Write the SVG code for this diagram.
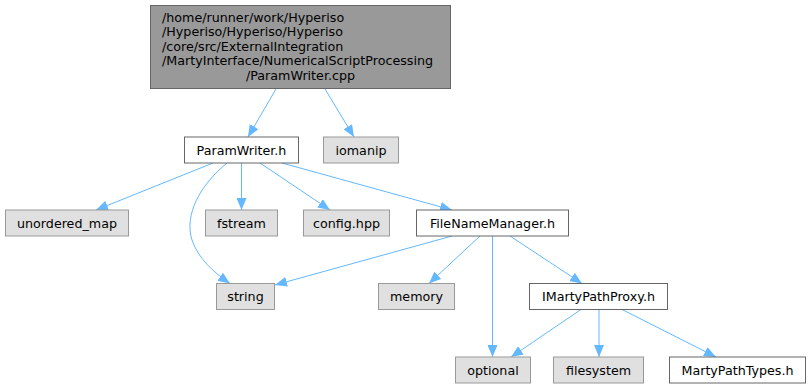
<svg xmlns="http://www.w3.org/2000/svg" width="812" height="388" viewBox="0 0 812 388">
<style>
text{font-family:"DejaVu Sans","Liberation Sans",sans-serif;font-size:12.7px;fill:#000}
.c{text-anchor:middle}
.w{fill:#ffffff;stroke:#666666;stroke-width:1}
.g{fill:#e0e0e0;stroke:#999999;stroke-width:1}
.r{fill:#999999;stroke:#666666;stroke-width:1}
.e{fill:none;stroke:#63b8ff;stroke-width:1;marker-end:url(#a)}
</style>
<defs>
<marker id="a" viewBox="0 0 12 10" refX="12" refY="5" markerWidth="12" markerHeight="10" markerUnits="userSpaceOnUse" orient="auto">
<path d="M0,0 L12,5 L0,10 z" fill="#63b8ff"/>
</marker>
</defs>
<g id="edges">
<path class="e" d="M276,89 L248,137"/>
<path class="e" d="M325,89 L354,137"/>
<path class="e" d="M213,163 L96,210"/>
<path class="e" d="M241.5,163 L241.5,210"/>
<path class="e" d="M260,163 L330,210"/>
<path class="e" d="M282,163 L452,210"/>
<path class="e" d="M227,163 C200,185 184,215 192,240 C198,258 213,272 230,283.5"/>
<path class="e" d="M452,236 L275,285"/>
<path class="e" d="M480,236 L429,283.5"/>
<path class="e" d="M492.5,236 L492.5,357"/>
<path class="e" d="M510,236 L582,283.5"/>
<path class="e" d="M581,309.5 L511,357"/>
<path class="e" d="M599,309.5 L599,357"/>
<path class="e" d="M622,309.5 L716,357"/>
</g>
<g id="root">
<rect class="r" x="150.5" y="5.5" width="300" height="83"/>
<text x="162" y="21.5">/home/runner/work/Hyperiso</text>
<text x="162" y="36">/Hyperiso/Hyperiso/Hyperiso</text>
<text x="162" y="50.5">/core/src/ExternalIntegration</text>
<text x="162" y="65">/MartyInterface/NumericalScriptProcessing</text>
<text class="c" x="300.5" y="79.5">/ParamWriter.cpp</text>
</g>
<g id="ParamWriter_h">
<rect class="w" x="184.5" y="137" width="114" height="26"/>
<text class="c" x="241.5" y="154.5">ParamWriter.h</text>
</g>
<g id="iomanip">
<rect class="g" x="323.5" y="137" width="75" height="26"/>
<text class="c" x="361" y="154.5">iomanip</text>
</g>
<g id="unordered_map">
<rect class="g" x="5.5" y="210" width="123" height="26"/>
<text class="c" x="67" y="227.5">unordered_map</text>
</g>
<g id="fstream">
<rect class="g" x="205.5" y="210" width="72" height="26"/>
<text class="c" x="241.5" y="227.5">fstream</text>
</g>
<g id="config_hpp">
<rect class="g" x="303.5" y="210" width="86" height="26"/>
<text class="c" x="346.5" y="227.5">config.hpp</text>
</g>
<g id="FileNameManager_h">
<rect class="w" x="416.5" y="210" width="152" height="26"/>
<text class="c" x="492.5" y="227.5">FileNameManager.h</text>
</g>
<g id="string">
<rect class="g" x="216.5" y="283.5" width="58" height="26"/>
<text class="c" x="245.5" y="301">string</text>
</g>
<g id="memory">
<rect class="g" x="378.5" y="283.5" width="76" height="26"/>
<text class="c" x="416.5" y="301">memory</text>
</g>
<g id="IMartyPathProxy_h">
<rect class="w" x="529.5" y="283.5" width="138" height="26"/>
<text class="c" x="598.5" y="301">IMartyPathProxy.h</text>
</g>
<g id="optional">
<rect class="g" x="455.5" y="357" width="75" height="26"/>
<text class="c" x="493" y="374.5">optional</text>
</g>
<g id="filesystem">
<rect class="g" x="553.5" y="357" width="90" height="26"/>
<text class="c" x="598.5" y="374.5">filesystem</text>
</g>
<g id="MartyPathTypes_h">
<rect class="w" x="669.5" y="357" width="136" height="26"/>
<text class="c" x="737.5" y="374.5">MartyPathTypes.h</text>
</g>
</svg>
